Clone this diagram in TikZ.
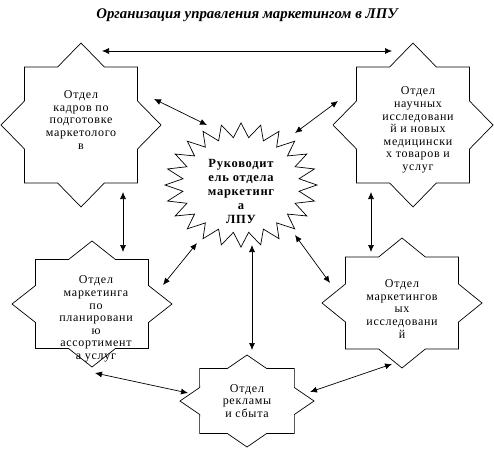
\documentclass[tikz,border=0pt]{standalone}
\usepackage{fontspec}
\setmainfont{Liberation Serif}[LetterSpace=6]
\newfontfamily\zagfont{Liberation Serif}
\usetikzlibrary{arrows.meta}

\tikzset{
  otdel/.style={align=center, font=\fontsize{12}{12.6}\selectfont, inner sep=0pt},
  glava/.style={align=center, font=\bfseries\fontsize{12.5}{14}\selectfont, inner sep=0pt},
  svyaz/.style={{Latex[length=7pt,width=6pt]}-{Latex[length=7pt,width=6pt]}, line width=0.7pt},
  kontur/.style={line width=0.7pt}
}

% star with eight points: centre, x-radius, y-radius
\newcommand{\zvezda}[3]{%
  \pgfmathsetmacro\ix{0.765*#2}\pgfmathsetmacro\iy{0.765*#3}%
  \draw[kontur, shift={#1}] (0:#2 and #3)
    \foreach \k in {0,...,7} {-- (\k*45+22.5:{\ix} and {\iy}) -- (\k*45+45:#2 and #3)} -- cycle;
}
% burst with 24 points
\newcommand{\vzryv}[3]{%
  \pgfmathsetmacro\ix{0.77*#2}\pgfmathsetmacro\iy{0.77*#3}%
  \draw[kontur, shift={#1}] (0:#2 and #3)
    \foreach \k in {0,...,23} {-- (\k*15+7.5:{\ix} and {\iy}) -- (\k*15+15:#2 and #3)} -- cycle;
}

\begin{document}
\begin{tikzpicture}[x=1pt, y=-1pt]
\useasboundingbox (0,0) rectangle (494,449);

\node[font=\zagfont\bfseries\itshape\fontsize{14.8}{16}\selectfont] (zag) at (247,15)
  {Организация управления маркетингом в ЛПУ};

% shapes
\zvezda{(81,125)}{80}{82}
\zvezda{(413,125)}{80}{82}
\zvezda{(92,304)}{80}{63}
\zvezda{(402,303)}{80}{65}
\zvezda{(247,401)}{67}{46}
\vzryv{(241,185)}{76}{62}

% texts
\node[otdel] (kadry) at (81,120) {Отдел\\кадров по\\подготовке\\маркетолого\\в};
\node[otdel] (nauka) at (418,130) {Отдел\\научных\\исследовани\\й и новых\\медицински\\х товаров и\\услуг};
\node[glava] (ruk) at (241,191) {Руководит\\ель отдела\\маркетинг\\а\\ЛПУ};
\node[otdel] (plan) at (96,319) {Отдел\\маркетинга\\по\\планировани\\ю\\ассортимент\\а услуг};
\node[otdel] (issl) at (402,309) {Отдел\\маркетингов\\ых\\исследовани\\й};
\node[otdel] (reklama) at (247,401) {Отдел\\рекламы\\и сбыта};

% arrow ends
\coordinate (k1) at (102,51);  \coordinate (n1) at (392,51);
\coordinate (k2) at (154,99);  \coordinate (r1) at (207,125);
\coordinate (n2) at (338,101); \coordinate (r2) at (295,133);
\coordinate (k3) at (123,192); \coordinate (p1) at (123,252);
\coordinate (n3) at (371,192); \coordinate (i1) at (371,252);
\coordinate (r3) at (197,243); \coordinate (p2) at (163,285);
\coordinate (r4) at (252,245); \coordinate (s1) at (252,350);
\coordinate (r5) at (295,235); \coordinate (i2) at (330,283);
\coordinate (p3) at (95,373);  \coordinate (s2) at (188,393);
\coordinate (i3) at (392,364); \coordinate (s3) at (310,392);

\draw[svyaz] (k1) -- (n1);
\draw[svyaz] (k2) -- (r1);
\draw[svyaz] (n2) -- (r2);
\draw[svyaz] (k3) -- (p1);
\draw[svyaz] (n3) -- (i1);
\draw[svyaz] (r3) -- (p2);
\draw[svyaz] (r4) -- (s1);
\draw[svyaz] (r5) -- (i2);
\draw[svyaz] (p3) -- (s2);
\draw[svyaz] (i3) -- (s3);
\end{tikzpicture}
\end{document}
